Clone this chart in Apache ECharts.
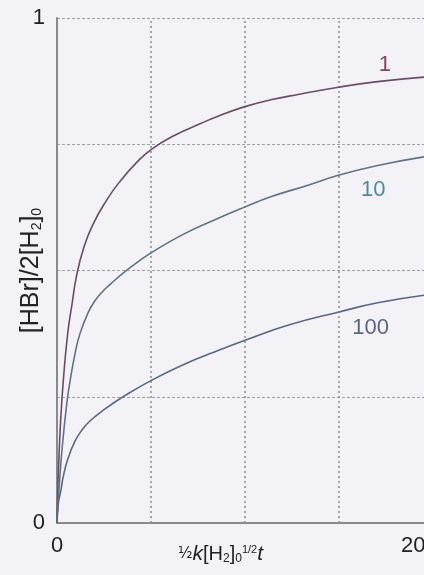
<!DOCTYPE html>
<html>
<head>
<meta charset="utf-8">
<script src="https://cdn.jsdelivr.net/npm/echarts@6/dist/echarts.min.js"></script>
<style>
html,body{margin:0;padding:0;background:#f3f3f7;}
#c{width:424px;height:575px;}
</style>
</head>
<body>
<div id="c"></div>
<script>
// Curve data: [x, y]
const curve1 = [[0,0],[0.05,0.07],[0.1,0.12],[0.2,0.2],[0.35,0.28],[0.6,0.375],[0.85,0.435],[1.1,0.49],[1.5,0.545],[2,0.59],[2.8,0.64],[3.5,0.675],[4.5,0.715],[5.3,0.74],[6.5,0.766],[8,0.79],[9,0.805],[10.5,0.824],[12,0.838],[13.6,0.849],[15.8,0.863],[18,0.874],[20.6,0.883]];
const curve10 = [[0,0],[0.1,0.06],[0.28,0.145],[0.56,0.24],[0.73,0.28],[1.01,0.335],[1.29,0.375],[1.74,0.416],[2.13,0.44],[2.6,0.46],[3,0.473],[3.71,0.495],[4.5,0.516],[5.28,0.535],[7,0.57],[8.7,0.598],[10.56,0.626],[12,0.646],[14,0.668],[15.84,0.689],[18,0.708],[20.6,0.725]];
const curve100 = [[0,0],[0.06,0.036],[0.22,0.065],[0.34,0.09],[0.62,0.128],[1.01,0.162],[1.4,0.184],[1.85,0.202],[2.7,0.226],[3.71,0.25],[5.22,0.281],[7,0.312],[8.71,0.337],[10.56,0.362],[13,0.392],[15.84,0.418],[18,0.436],[20.6,0.451]];
const seriesNames = ['1','10','100'];
const xTickLabels = [0, 20];
const yTickLabels = [0, 1];
const gridX = [5.28, 10.56, 15.84];
const labelPos = [[18.4, 0.907],[17.75, 0.659],[17.6, 0.386]];

const lineColors = ['#6b4c64','#5f7384','#5a6688'];
const labelColors = ['#8a3f62','#4d8ca0','#5b6589'];
const datas = [curve1, curve10, curve100];

const chart = echarts.init(document.getElementById('c'));
const series = datas.map((d, i) => {
  const s = {
    type: 'line', name: seriesNames[i], data: d, smooth: 0.5, showSymbol: false, symbol: 'none',
    lineStyle: { color: lineColors[i], width: 1.6 },
    z: 5,
    markPoint: {
      symbol: 'circle', symbolSize: 0,
      data: [{ coord: labelPos[i], value: seriesNames[i] }],
      label: { show: true, position: 'inside', formatter: seriesNames[i], color: labelColors[i], fontSize: 22, fontFamily: 'Liberation Sans' }
    }
  };
  if (i === 0) {
    s.markLine = {
      silent: true, symbol: 'none', label: { show: false },
      lineStyle: { type: [2, 3], color: '#8c8c8c', width: 1.5 },
      data: gridX.map(v => ({ xAxis: v }))
    };
  }
  return s;
});

chart.setOption({
  backgroundColor: '#f3f3f7',
  animation: false,
  grid: { left: 57, right: 0, top: 18, bottom: 52, containLabel: false, outerBoundsMode: 'none' },
  xAxis: {
    type: 'value', min: 0, max: 20.6, interval: 20,
    axisLine: { show: true, lineStyle: { color: '#8a8a8a', width: 2 } },
    axisTick: { show: false },
    splitLine: { show: false },
    axisLabel: { color: '#222', fontSize: 22, fontFamily: 'Liberation Sans', margin: 12,
      formatter: v => (xTickLabels.indexOf(v) >= 0 ? String(v) : '') },
    name: '{fr|½}{it|k}[H{sub|2}]{sub|0}{sup|1/2}{it|t}',
    nameLocation: 'middle', nameGap: 21, nameMoveOverlap: false,
    nameTextStyle: {
      color: '#222', fontSize: 20, fontFamily: 'Liberation Sans', padding: [0, 40, 0, 0],
      rich: {
        fr: { fontSize: 15, fontFamily: 'DejaVu Sans', color: '#222' },
        it: { fontStyle: 'italic', fontSize: 21, color: '#222', fontFamily: 'Liberation Sans' },
        sub: { fontSize: 12, verticalAlign: 'bottom', padding: [8, 0, 0, 0], color: '#222' },
        sup: { fontSize: 11, verticalAlign: 'top', padding: [0, 0, 8, 0], color: '#222' }
      }
    }
  },
  yAxis: {
    type: 'value', min: 0, max: 1, interval: 0.25,
    axisLine: { show: true, lineStyle: { color: '#8a8a8a', width: 2 } },
    axisTick: { show: false },
    splitLine: { show: true, lineStyle: { type: [3, 2], color: '#a0a0a8', width: 1.2 } },
    axisLabel: { color: '#222', fontSize: 22, fontFamily: 'Liberation Sans', margin: 12,
      formatter: v => (yTickLabels.indexOf(v) >= 0 ? String(v) : '') },
    name: '[HBr]/2[H{sub|2}]{sub|0}',
    nameLocation: 'middle', nameGap: 13, nameRotate: 90, nameMoveOverlap: false,
    nameTextStyle: {
      color: '#222', fontSize: 25, fontFamily: 'Liberation Sans',
      rich: { sub: { fontSize: 14, verticalAlign: 'bottom', padding: [9, 0, 0, 0], color: '#222' } }
    }
  },
  series: series
});
</script>
</body>
</html>
